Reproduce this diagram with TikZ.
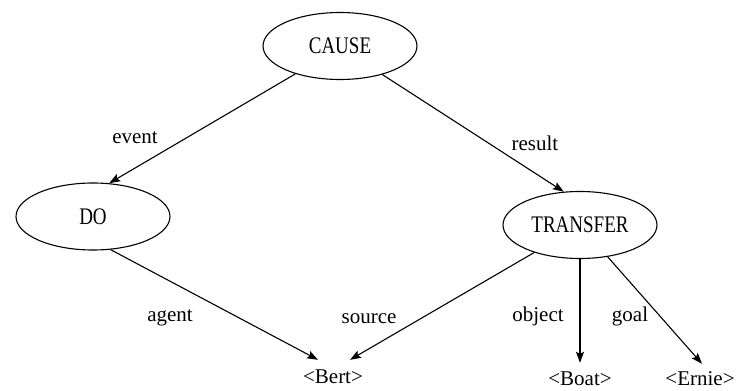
\documentclass[tikz,border=0pt]{standalone}
\usepackage{fontspec}
\setmainfont{Liberation Serif}
\usetikzlibrary{shapes.geometric,arrows.meta}
\newcommand{\tallcaps}[1]{\scalebox{1}[1.25]{#1}}
\begin{document}
\begin{tikzpicture}[x=1pt,y=-1pt,
  concept/.style={draw,ellipse,line width=1.1pt,minimum width=154pt,minimum height=67pt,inner sep=0pt,font=\fontsize{19}{21}\selectfont},
  lbl/.style={anchor=base,inner sep=0pt,font=\fontsize{21}{23}\selectfont},
  leaf/.style={anchor=base,inner sep=0pt,text height=15pt,text depth=0pt,font=\fontsize{21}{23}\selectfont},
  rel/.style={line width=1.1pt,-{Stealth[length=11pt,width=8pt,inset=2pt]}}]
\useasboundingbox (0,0) rectangle (740,391);
\node[concept] (cause) at (340,46) {\tallcaps{CAUSE}};
\node[concept] (do) at (93,216.5) {\tallcaps{DO}};
\node[concept] (transfer) at (580,225) {\tallcaps{TRANSFER}};
\node[leaf] (bert) at (333,383) {<Bert>};
\node[leaf] (boat) at (580,385) {<Boat>};
\node[leaf] (ernie) at (700,385) {<Ernie>};
\node[lbl] (event) at (135,143) {event};
\node[lbl] (result) at (535,150) {result};
\node[lbl] (agent) at (170,321) {agent};
\node[lbl] (source) at (369,323) {source};
\node[lbl] (object) at (538,321) {object};
\node[lbl] (goal) at (630,321) {goal};
\draw[rel] (cause.212) -- (do.64);
\draw[rel] (cause.326) -- (transfer.116);
\draw[rel] (do.298) -- ([xshift=-15pt,yshift=8pt]bert.north);
\draw[rel] (transfer.211) -- ([xshift=17pt,yshift=8pt]bert.north);
\draw[rel] (transfer.south) -- ([yshift=7pt]boat.north);
\draw[rel] (transfer.311) -- ([xshift=2pt,yshift=6pt]ernie.north);
\end{tikzpicture}
\end{document}
